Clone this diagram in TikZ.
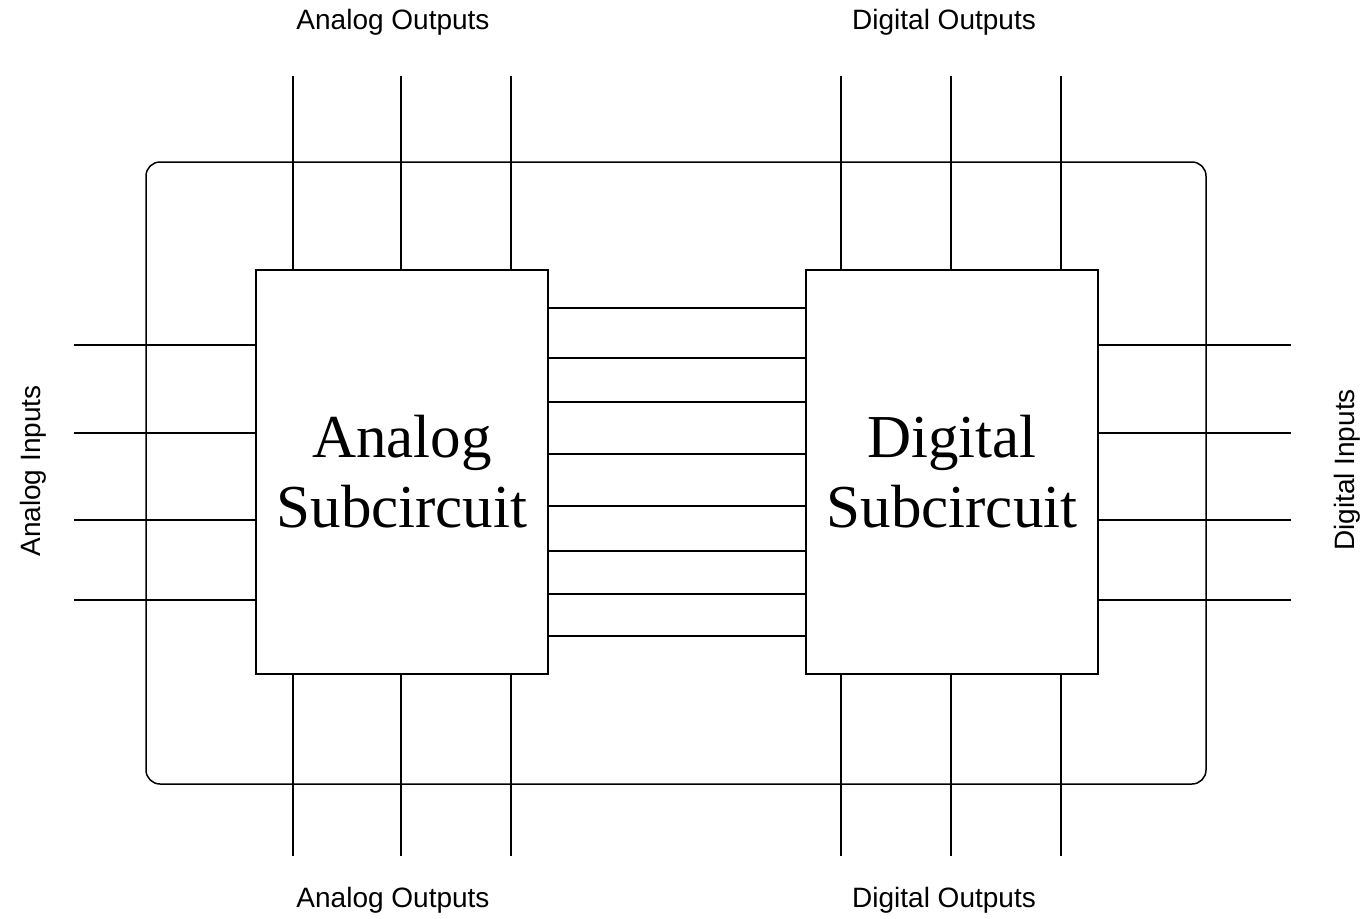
\documentclass[tikz,border=0pt]{standalone}
\usepackage{fontspec}
\setmainfont{Liberation Serif}
\setsansfont{Liberation Sans}
\begin{document}
\begin{tikzpicture}[x=1pt,y=-1pt,
  wire/.style={line width=1.5pt},
  sub/.style={draw,line width=1.5pt,minimum width=292pt,minimum height=404pt,inner sep=0pt,align=center,
    font=\fontsize{61}{70}\selectfont},
  frame/.style={draw,line width=1.5pt,rounded corners=14pt,minimum width=1060pt,minimum height=622pt,inner sep=0pt},
  lbl/.style={font=\sffamily\fontsize{28}{32}\selectfont,inner sep=0pt}]
\useasboundingbox (0,0) rectangle (1362,918);
\node[frame] (F) at (676,473) {};
\node[sub] (A) at (402,472) {Analog\\Subcircuit};
\node[sub] (D) at (952,472) {Digital\\Subcircuit};
% labels
\node[lbl] (lat) at (393,22) {Analog Outputs};
\node[lbl] (lab) at (393,900) {Analog Outputs};
\node[lbl] (ldt) at (944,22) {Digital Outputs};
\node[lbl] (ldb) at (944,900) {Digital Outputs};
\node[lbl,rotate=90] (lai) at (33,471) {Analog Inputs};
\node[lbl,rotate=90] (ldi) at (1347,470) {Digital Inputs};
% vertical wires
\foreach \x [count=\i] in {293,401,511} {
  \coordinate (at\i) at (\x,76);
  \coordinate (ab\i) at (\x,856);
  \draw[wire] (at\i) -- (at\i |- A.north);
  \draw[wire] (ab\i) -- (ab\i |- A.south);
}
\foreach \x [count=\i] in {841,951,1061} {
  \coordinate (dt\i) at (\x,76);
  \coordinate (db\i) at (\x,856);
  \draw[wire] (dt\i) -- (dt\i |- D.north);
  \draw[wire] (db\i) -- (db\i |- D.south);
}
% horizontal input wires
\foreach \y [count=\i] in {345,433,520,600} {
  \coordinate (li\i) at (74,\y);
  \coordinate (ri\i) at (1291,\y);
  \draw[wire] (li\i) -- (li\i -| A.west);
  \draw[wire] (ri\i) -- (ri\i -| D.east);
}
% interconnect
\foreach \y [count=\i] in {308,358,402,454,506,551,594,636} {
  \coordinate (m\i) at (676,\y);
  \draw[wire] (m\i -| A.east) -- (m\i -| D.west);
}
\end{tikzpicture}
\end{document}
